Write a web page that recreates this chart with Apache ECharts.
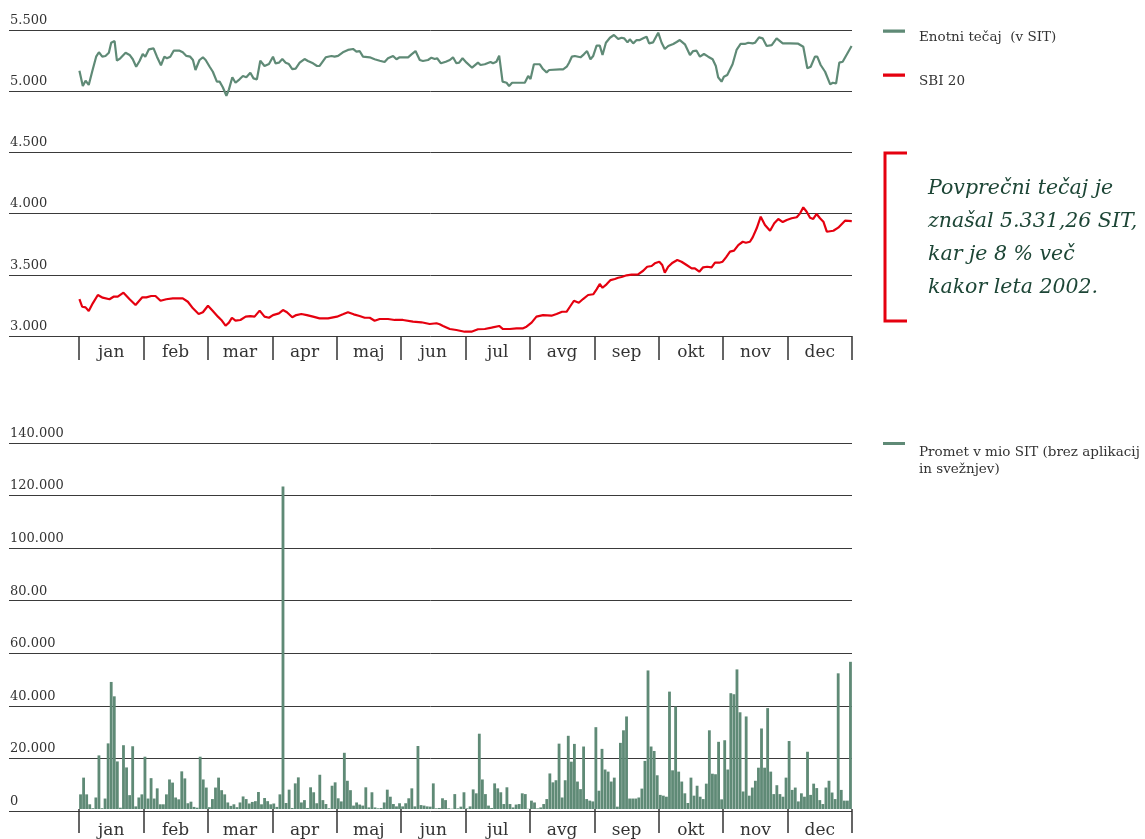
<!DOCTYPE html>
<html>
<head>
<meta charset="utf-8">
<script src="https://cdn.jsdelivr.net/npm/echarts@6/dist/echarts.min.js"></script>
<style>
    html, body { margin: 0; padding: 0; background: #fff; }
    #chart { width: 1145px; height: 839px; }
</style>
</head>
<body>
<div id="chart"></div>
<script>
// mesečne oznake
const months = ['jan', 'feb', 'mar', 'apr', 'maj', 'jun', 'jul', 'avg', 'sep', 'okt', 'nov', 'dec'];

// oznake osi
const tecajTickLabels = ['3.000', '3.500', '4.000', '4.500', '5.000', '5.500'];
const prometTickLabels = ['0', '20.000', '40.000', '60.000', '80.00', '100.000', '120.000', '140.000'];

// Enotni tečaj (v SIT) - dan v letu / vrednost
const enotniDays = [0.2,1.8,3.1,4.6,6.2,8.1,9.4,11.0,12.5,14.1,15.2,16.8,17.9,19.5,22.0,23.9,25.4,27.0,28.6,30.1,
    31.3,33.0,35.2,36.8,38.7,40.3,41.5,43.1,44.7,47.5,49.0,50.7,52.5,53.8,55.0,56.9,58.5,59.8,61.7,63.2,
    65.1,66.4,67.9,69.6,70.8,72.4,73.9,75.8,77.4,79.0,80.9,82.4,84.0,85.6,87.6,89.7,91.6,92.8,94.4,96.0,
    97.6,99.1,100.7,102.3,104.2,106.5,108.1,110.5,112.4,113.6,116.5,119.2,120.7,122.3,124.6,127.0,129.4,131.0,132.5,134.1,
    137.3,139.6,142.0,144.3,145.9,148.3,149.9,151.4,155.4,157.0,158.9,160.9,162.4,164.8,166.4,168.0,169.1,170.9,173.2,175.1,
    176.6,178.2,179.5,181.1,183.0,185.6,188.4,189.6,191.6,194.3,195.5,197.1,198.4,200.0,201.9,203.1,204.5,210.5,212.1,213.2,
    214.8,217.6,219.1,220.8,222.0,227.0,228.6,230.3,231.4,232.7,234.1,236.8,238.4,239.9,241.5,242.8,244.4,245.9,247.2,248.8,
    250.7,252.6,254.6,256.2,257.4,259.0,260.1,261.7,263.3,264.8,266.4,268.0,269.2,271.1,273.5,275.1,276.6,278.2,280.6,282.2,
    283.7,286.1,288.5,290.0,291.6,293.2,295.1,297.1,299.2,300.7,301.8,303.4,304.5,306.1,308.6,310.5,312.4,314.4,316.0,318.1,
    319.2,321.1,322.8,324.7,327.1,329.4,332.3,335.7,339.6,342.0,343.9,345.5,347.5,348.6,350.2,352.3,354.7,355.9,357.5,359.0,
    360.6,364.8];
const enotniValues = [5167,5042,5086,5051,5159,5282,5318,5282,5288,5314,5396,5410,5249,5269,5314,5296,5261,5200,5247,5304,
    5282,5342,5350,5282,5212,5282,5269,5282,5331,5331,5318,5288,5282,5255,5173,5255,5277,5255,5200,5159,
    5078,5078,5032,4963,5015,5114,5069,5097,5124,5114,5151,5105,5097,5249,5206,5222,5282,5228,5233,5263,
    5233,5222,5181,5185,5233,5263,5247,5228,5206,5206,5277,5288,5282,5288,5318,5337,5345,5323,5328,5282,
    5277,5261,5249,5239,5269,5288,5261,5277,5277,5301,5328,5255,5247,5255,5274,5263,5269,5228,5241,5255,
    5277,5228,5233,5269,5233,5192,5233,5214,5220,5239,5228,5241,5290,5078,5069,5042,5069,5069,5124,5100,
    5220,5220,5181,5154,5173,5179,5179,5200,5233,5282,5288,5277,5301,5328,5261,5288,5372,5372,5296,5396,
    5437,5459,5426,5437,5432,5399,5424,5391,5418,5418,5432,5445,5391,5399,5478,5396,5345,5369,5386,5402,
    5418,5383,5296,5328,5331,5282,5304,5282,5261,5206,5114,5078,5118,5132,5220,5337,5386,5386,5396,5391,
    5396,5440,5432,5369,5377,5432,5391,5391,5388,5363,5187,5200,5282,5282,5214,5159,5056,5069,5064,5233,
    5241,5369];

// SBI 20 - dan v letu / vrednost
const sbiDays = [0.2,1.5,3.1,4.6,6.5,8.9,11.2,14.4,16.3,18.3,21.0,23.9,26.7,29.9,31.8,34.1,36.1,38.5,41.2,44.3,
    49.0,51.4,53.8,56.5,58.5,60.9,63.2,65.6,67.2,69.2,70.8,72.2,73.9,76.2,78.7,80.9,82.9,85.3,87.6,89.7,
    91.6,94.4,96.3,98.2,100.7,102.6,105.0,107.6,110.5,113.6,117.6,121.8,124.6,127.0,129.7,132.5,134.9,137.3,139.6,142.0,
    145.9,149.1,153.0,157.7,161.7,165.6,168.8,170.3,171.9,175.1,178.2,182.1,185.3,188.4,191.6,194.8,198.4,200.2,203.4,206.6,
    209.7,211.3,213.7,216.0,219.1,223.1,225.5,228.1,230.2,231.8,233.7,236.0,238.0,240.4,242.8,244.4,245.9,247.2,249.1,251.0,
    253.0,254.6,256.2,258.6,260.9,264.0,266.4,268.3,270.4,271.9,274.0,275.4,276.6,278.2,280.3,282.5,284.5,286.9,289.3,290.8,
    292.9,294.7,296.6,298.7,300.3,302.3,303.9,305.5,307.4,309.3,311.3,313.4,314.9,316.8,318.1,320.0,321.9,323.9,326.3,328.3,
    330.2,332.3,334.2,336.5,338.9,340.5,342.0,343.6,345.2,346.7,348.3,349.9,351.5,353.1,356.2,358.5,361.7,364.9];
const sbiValues = [3302,3239,3234,3204,3267,3335,3313,3300,3321,3321,3354,3300,3253,3316,3316,3327,3327,3288,3300,3308,
    3308,3280,3226,3180,3194,3247,3204,3158,3131,3084,3109,3149,3125,3131,3158,3163,3158,3207,3158,3149,
    3171,3185,3212,3194,3153,3171,3180,3171,3158,3144,3144,3158,3177,3194,3177,3163,3149,3149,3125,3139,
    3139,3131,3131,3117,3112,3098,3104,3096,3082,3057,3049,3035,3035,3055,3057,3068,3082,3057,3057,3063,
    3063,3076,3109,3158,3171,3166,3180,3198,3198,3239,3288,3272,3302,3335,3341,3381,3425,3394,3422,3457,
    3466,3476,3482,3496,3501,3504,3533,3566,3572,3594,3607,3580,3517,3566,3599,3621,3607,3580,3553,3553,
    3525,3561,3566,3561,3599,3599,3607,3643,3689,3697,3743,3770,3762,3770,3806,3880,3975,3907,3860,3921,
    3956,3931,3948,3962,3970,4002,4051,4015,3966,3956,3997,3962,3934,3852,3860,3885,3942,3939];

// Promet v mio SIT - po trgovalnih dneh (252 dni)
const prometValues = [
    // jan
    5600,12000,5600,1800,300,4400,20500,300,4000,25100,48600,43100,18200,500,24400,15900,5300,24000,1000,4400,5600,
    // feb
    20000,4000,11800,4000,7900,1800,1800,5600,11300,10100,4400,3700,14400,11700,2200,2800,800,500,20000,11300,8200,
    // mar
    700,3800,8200,12000,7200,5600,2500,1200,1800,700,2500,4800,3800,2100,2700,3000,6500,1800,4200,3000,1800,2100,800,5600,
    // apr - avg
    123400,
    2300,7400,400,9800,12100,2500,3400,400,8300,6400,
    2200,13100,3400,1900,300,8900,10200,4100,2900,21500,
    10800,7200,1300,2500,1700,1300,8300,600,6400,600,
    250,400,2500,7400,4700,1900,1000,2200,1000,2200,
    4100,7900,1000,24100,1500,1300,1000,900,9800,250,
    400,4100,3400,250,100,5700,250,900,6400,250,
    1000,7500,6000,28800,11300,5700,1300,400,9800,7900,
    6400,1900,8300,1900,600,1700,1900,6000,5700,100,
    3200,2500,250,600,1900,3800,13600,10200,11000,25000,
    // avg - dec
    4400,11000,28000,18100,24900,10500,7600,23900,3800,3200,
    2900,31300,7000,23000,15100,14300,10500,12000,900,25300,
    30100,35400,4000,4000,4000,4400,7800,18400,53000,23900,
    22200,12900,5400,5100,4700,44900,14800,39200,14300,10500,
    6000,2300,12000,5100,8900,4700,3800,9700,30100,13500,
    13300,25700,3700,26300,15100,44300,43900,53400,37000,6700,
    35400,5100,8200,10800,15800,30800,15800,38600,14300,5700,
    9100,5700,4700,12000,26000,7300,8200,2900,6000,4700,
    21900,5400,9700,8000,3400,1900,8200,10800,6300,3800,
    51900,7300,3200,3200,56300
];

const GREEN = '#5f8a76';
const RED = '#e5000f';
const TEXT = '#333333';
const GRIDLINE = '#3a3a3a';
const AXIS_FONT = 'DejaVu Serif';

const tecajName = 'Enotni tečaj  (v SIT)';
const sbiName = 'SBI 20';
const prometName = 'Promet v mio SIT (brez aplikacij\nin svežnjev)';

// ikona legende: črta na vrhu višjega okvirja
const iconTop15 = 'path://M0,0H22V3H0Z M0,14H22V14.01H0Z';
const iconTop38 = 'path://M0,0H22V3H0Z M0,38H22V38.01H0Z';

const chart = echarts.init(document.getElementById('chart'));

function labelAxis(gridIndex, min, max, interval, labels) {
    return {
        gridIndex: gridIndex,
        type: 'value',
        min: min,
        max: max,
        interval: interval,
        axisLine: { show: false },
        axisTick: { show: false },
        splitLine: { show: true, lineStyle: { color: GRIDLINE, width: 1 } },
        axisLabel: {
            inside: true,
            align: 'left',
            verticalAlign: 'bottom',
            margin: 1,
            padding: [0, 0, 3, 0],
            color: TEXT,
            fontFamily: AXIS_FONT,
            fontSize: 13,
            formatter: (val, idx) => labels[idx]
        }
    };
}

function monthAxis(gridIndex, labelMargin) {
    return {
        gridIndex: gridIndex,
        type: 'category',
        position: 'bottom',
        data: months,
        boundaryGap: true,
        axisLine: { show: false },
        axisTick: { show: true, length: 24, interval: 0, lineStyle: { color: TEXT, width: 1.5 } },
        axisLabel: { interval: 0, margin: labelMargin, color: TEXT, fontFamily: AXIS_FONT, fontSize: 17 },
        splitLine: { show: false }
    };
}

const legendText = {
    color: TEXT,
    fontFamily: AXIS_FONT,
    fontSize: 13.5,
    padding: [0, 0, 0, 9]
};

function legendAt(name, icon, top, height, lineHeight) {
    return {
        data: [{ name: name, icon: icon }],
        left: 883,
        top: top,
        padding: 0,
        itemWidth: 22,
        itemHeight: height,
        symbolKeepAspect: false,
        selectedMode: false,
        textStyle: Object.assign({ lineHeight: lineHeight }, legendText)
    };
}

const option = {
    backgroundColor: '#ffffff',
    animation: false,
    grid: [
        { left: 9, right: 293, top: 30, bottom: 503 },   // ozadje zgoraj
        { left: 79, right: 293, top: 30, bottom: 503 },  // črti
        { left: 9, right: 293, top: 443, bottom: 28 },   // ozadje spodaj
        { left: 79, right: 293, top: 443, bottom: 28 }   // stolpci
    ],
    xAxis: [
        { gridIndex: 0, type: 'value', min: 0, max: 1, show: false },
        monthAxis(1, 8),
        { gridIndex: 1, type: 'value', min: 0, max: 365, position: 'top', show: false },
        { gridIndex: 2, type: 'value', min: 0, max: 1, show: false },
        monthAxis(3, 13),
        {
            gridIndex: 3, type: 'category', position: 'top', show: false,
            data: prometValues.map((_, i) => i + 1)
        }
    ],
    yAxis: [
        labelAxis(0, 3000, 5500, 500, tecajTickLabels),
        { gridIndex: 1, type: 'value', min: 3000, max: 5500, show: false },
        labelAxis(2, 0, 140000, 20000, prometTickLabels),
        { gridIndex: 3, type: 'value', min: 0, max: 140000, show: false }
    ],
    legend: [
        legendAt(tecajName, iconTop15, 29, 15, 16),
        legendAt(sbiName, iconTop15, 73, 15, 16),
        legendAt(prometName, iconTop38, 442, 38, 17)
    ],
    graphic: [
        {
            type: 'polyline',
            shape: { points: [[907, 153], [885, 153], [885, 321], [907, 321]] },
            style: { stroke: RED, lineWidth: 3, fill: null }
        },
        {
            type: 'text',
            left: 928,
            top: 172,
            style: {
                text: 'Povprečni tečaj je\nznašal 5.331,26 SIT,\nkar je 8 % več\nkakor leta 2002.',
                font: 'italic 20.5px "DejaVu Serif"',
                lineHeight: 33,
                fill: '#1d4636'
            }
        }
    ],
    series: [
        {
            name: tecajName,
            type: 'line',
            xAxisIndex: 2,
            yAxisIndex: 1,
            data: enotniDays.map((d, i) => [d, enotniValues[i]]),
            showSymbol: false,
            color: GREEN,
            lineStyle: { color: GREEN, width: 2.2 }
        },
        {
            name: sbiName,
            type: 'line',
            xAxisIndex: 2,
            yAxisIndex: 1,
            data: sbiDays.map((d, i) => [d, sbiValues[i]]),
            showSymbol: false,
            color: RED,
            lineStyle: { color: RED, width: 2.2 }
        },
        {
            name: prometName,
            type: 'bar',
            xAxisIndex: 5,
            yAxisIndex: 3,
            data: prometValues,
            barCategoryGap: '8%',
            color: GREEN,
            itemStyle: { color: GREEN }
        }
    ]
};

chart.setOption(option);
</script>
</body>
</html>
